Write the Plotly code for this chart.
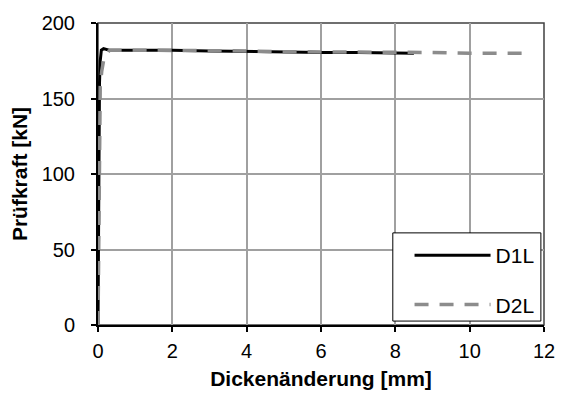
import plotly.graph_objects as go

# D1L (black solid)
d1l_x = [0, 0.01, 0.02, 0.03, 0.04, 0.06, 0.09, 0.15, 0.3, 1, 2, 3, 4, 5, 6, 7, 8, 8.5]
d1l_y = [0, 50, 100, 140, 160, 175, 182, 183, 182, 182, 182, 181.5, 181, 181, 180.5, 180.5, 180, 180]

# D2L (gray dashed)
d2l_x = [0, 0.02, 0.03, 0.04, 0.06, 0.1, 0.15, 0.22, 0.32, 1, 2, 3, 4, 5, 6, 7, 8, 9, 10, 11, 11.5]
d2l_y = [0, 50, 100, 140, 158, 168, 175, 180, 182, 182, 182, 182, 181.5, 181, 181, 180.5, 180.5, 180.5, 180, 180, 180]

x_ticks = [0, 2, 4, 6, 8, 10, 12]
y_ticks = [0, 50, 100, 150, 200]

fig = go.Figure()
fig.add_trace(go.Scatter(x=d1l_x, y=d1l_y, mode="lines", name="D1L",
                         line=dict(color="black", width=3), legendgroup="a"))
fig.add_trace(go.Scatter(x=d2l_x, y=d2l_y, mode="lines", name="D2L",
                         line=dict(color="#8c8c8c", width=3.5, dash="14px,11px"), legendgroup="b"))

font = "Liberation Sans"
fig.update_layout(
    width=567, height=399,
    margin=dict(l=98, r=20, t=18, b=73),
    paper_bgcolor="white", plot_bgcolor="white",
    font=dict(family=font, size=20, color="black"),
    showlegend=True,
    legend=dict(x=0.99, y=0.0, xanchor="right", yanchor="bottom",
                bgcolor="rgba(0,0,0,0)", borderwidth=0,
                font=dict(size=21), traceorder="grouped", tracegroupgap=19,
                itemwidth=76),
    xaxis=dict(range=[0, 12], tickvals=x_ticks, showgrid=True, gridcolor="#a0a0a0", gridwidth=1.5,
               showline=True, linecolor="black", linewidth=2, mirror=False,
               ticks="outside", ticklen=5, tickcolor="black", tickwidth=1.5,
               zeroline=False, ticklabelstandoff=2,
               title=dict(text="<b>Dickenänderung [mm]</b>", font=dict(size=21), standoff=10)),
    yaxis=dict(range=[0, 200], tickvals=y_ticks, showgrid=True, gridcolor="#a0a0a0", gridwidth=1.5,
               showline=True, linecolor="black", linewidth=2,
               ticks="outside", ticklen=5, tickcolor="black", tickwidth=1.5,
               zeroline=False, ticklabelstandoff=12,
               title=dict(text="<b>Prüfkraft [kN]</b>", font=dict(size=21), standoff=8)),
)
# plot-area border (right/top)
fig.add_shape(type="rect", xref="paper", yref="paper", x0=0, y0=0, x1=1, y1=1,
              line=dict(color="#404040", width=1.5), layer="below")
# legend frame
fig.add_shape(type="rect", xref="paper", yref="paper", x0=0.661, y0=0.013, x1=0.993, y1=0.305,
              line=dict(color="black", width=1), fillcolor="white", layer="above")

fig.write_html("out.html")
